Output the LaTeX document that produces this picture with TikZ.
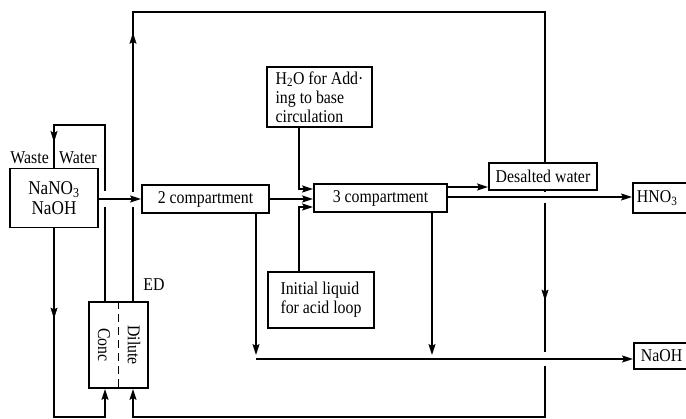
\documentclass[tikz,border=0pt]{standalone}
\usepackage{fontspec}
\setmainfont{Liberation Serif}[FakeStretch=0.88]
\usetikzlibrary{arrows.meta,decorations.markings}
\begin{document}
\begin{tikzpicture}[x=1pt,y=-1pt,
  every node/.style={font=\fontsize{18}{19}\selectfont},
  box/.style={draw, line width=1.9pt, fill=white, inner sep=0pt},
  flow/.style={line width=1.4pt},
  tip/.style={-{Stealth[length=11pt,width=7pt,inset=2pt]}},
  midarr/.style={postaction={decorate,decoration={markings,mark=at position #1 with {\arrow{Stealth[length=11pt,width=7pt,inset=2pt]}}}}},
  gapfill/.style={fill=white}
]
\useasboundingbox (0,0) rectangle (686,419);

% nodes
\node[box, minimum width=88pt, minimum height=59pt, align=center, font=\fontsize{19.5}{20.5}\selectfont] (A) at (54,198) {NaNO\textsubscript{3}\\NaOH};
\node[anchor=east, inner sep=0pt] (waste) at (49,158) {Waste};
\node[anchor=west, inner sep=0pt] (water) at (59,158) {Water};

\node[box, minimum width=59pt, minimum height=86pt] (ED) at (118.5,345) {};
\node[rotate=-90, inner sep=0pt] (conc) at (104,345) {Conc};
\node[rotate=-90, inner sep=0pt] (dil) at (134,345) {Dilute};
\draw[line width=1.4pt, dash pattern=on 8pt off 5pt] (ED.north) -- (ED.south);
\node (edl) at (154,285) {ED};

\node[box, minimum width=127pt, minimum height=28pt] (C2) at (205.5,199) {2 compartment};
\node[box, minimum width=133pt, minimum height=28pt] (C3) at (380.5,198) {3 compartment};
\node[box, minimum width=105pt, minimum height=60pt, align=left] (H) at (319.5,97) {H\textsubscript{2}O for Add·\\ing to base\\circulation};
\node[box, minimum width=106pt, minimum height=56pt, align=left] (I) at (321,300) {Initial liquid\\for acid loop};
\node[box, minimum width=108pt, minimum height=27pt] (DW) at (543,176.5) {Desalted water};
\node[box, anchor=west, text width=52pt, inner xsep=4pt, minimum height=30pt, align=left] (HN) at (632,198) {HNO\textsubscript{3}};
\node[box, anchor=west, text width=50pt, inner xsep=7pt, minimum height=26pt, align=left] (NB) at (633,356) {NaOH};

% coordinates
\coordinate (c1) at (54,125); \coordinate (c2) at (105,125);
\coordinate (t1) at (133,12); \coordinate (t2) at (545,12);
\coordinate (b2) at (545,417); \coordinate (b1) at (133,417);
\coordinate (b0) at (54,417); \coordinate (b00) at (105,417);
\coordinate (h1) at (299,189); \coordinate (i1) at (299,207);
\coordinate (j1) at (256,359); \coordinate (j2) at (432,359);
\coordinate (o1) at (447,187); \coordinate (o2) at (447,197);

% vertical runs
\draw[flow] (ED.north -| c2) -- (c2) -- (c1) -- (A.north);
\path[midarr=0.4] (c1) -- (A.north);
\draw[flow] (ED.north -| t1) -- (t1) -- (t2) -- (t2 |- DW.north);
\path[midarr=0.928] (ED.north -| t1) -- (t1);
\draw[flow, tip] (t2 |- DW.south) -- (b2) -- (b1) -- (ED.south -| b1);
\path[midarr=0.485] (t2 |- DW.south) -- (b2);
\draw[flow, tip] (A.south) -- (b0) -- (b00) -- (ED.south -| b00);
\path[midarr=0.478] (A.south) -- (b0);
\draw[flow, tip, shorten >=4pt] (C2.south -| j1) -- (j1);
\draw[flow, tip, shorten >=4pt] (C3.south -| j2) -- (j2);
\draw[flow, tip] (H.south -| h1) -- (h1) -- (C3.west |- h1);
\draw[flow, tip] (I.north -| i1) -- (i1) -- (C3.west |- i1);

% crossing gaps
\fill[gapfill] (102,191) rectangle (108,207);
\fill[gapfill] (130,192) rectangle (136,207);
\fill[gapfill] (542,192.5) rectangle (548,203);
\fill[gapfill] (542,352) rectangle (548,366);

% horizontal runs
\draw[flow, tip] (A.east |- C2.west) -- (C2.west);
\draw[flow, tip] (C2.east) -- (C3.west |- C2.east);
\draw[flow, tip] (C3.east |- o1) -- (DW.west |- o1);
\draw[flow, tip] (C3.east |- o2) -- (HN.west |- o2);
\draw[flow, tip] (j1) -- (NB.west |- j1);
\end{tikzpicture}
\end{document}
